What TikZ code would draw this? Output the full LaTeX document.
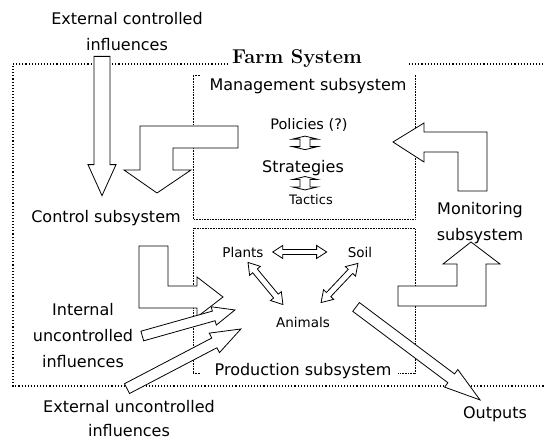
\documentclass[tikz,border=0pt]{standalone}
\usepackage{fontspec}
\newfontfamily\lblfont{DejaVu Sans}
\usetikzlibrary{calc}

\tikzset{
  outerbox/.style={dotted,line width=1.1pt},
  innerbox/.style={densely dotted,line width=0.6pt},
  fatarrow/.style={draw,fill=white,line width=0.8pt,line join=miter},
  lbl/.style={font=\lblfont\fontsize{16}{26}\selectfont,inner sep=0pt,align=center},
  sml/.style={font=\lblfont\fontsize{13.5}{16}\selectfont,inner sep=0pt}
}

% tail, tip, shaft half width, head half width, head length
\newcommand{\onewayarrow}[5]{%
  \coordinate (hb) at ($(#2)!#5!(#1)$);
  \draw[fatarrow] ($(#1)!#3!90:(#2)$) -- ($(hb)!#3!90:(#2)$) -- ($(hb)!#4!90:(#2)$) -- (#2)
    -- ($(hb)!#4!-90:(#2)$) -- ($(hb)!#3!-90:(#2)$) -- ($(#1)!#3!-90:(#2)$) -- cycle;}
\newcommand{\twowayarrow}[5]{%
  \coordinate (ha) at ($(#1)!#5!(#2)$);
  \coordinate (hb) at ($(#2)!#5!(#1)$);
  \draw[fatarrow] (#1) -- ($(ha)!#4!90:(#2)$) -- ($(ha)!#3!90:(#2)$) -- ($(hb)!#3!90:(#2)$)
    -- ($(hb)!#4!90:(#2)$) -- (#2) -- ($(hb)!#4!-90:(#2)$) -- ($(hb)!#3!-90:(#2)$)
    -- ($(ha)!#3!-90:(#2)$) -- ($(ha)!#4!-90:(#2)$) -- cycle;}

\begin{document}
\begin{tikzpicture}[x=1pt,y=-1pt]
  \useasboundingbox (0,0) rectangle (544,442);
  % farm system
  \draw[outerbox] (228,64) -- (13,64) -- (13,386) -- (544,386);
  \draw[outerbox] (409,64) -- (544,64);
  % management and production subsystems
  \draw[innerbox] (200,75) -- (193,75) -- (193,219) -- (415,219) -- (415,75);
  \draw[innerbox] (193,373) -- (193,228) -- (415,228) -- (415,373) -- (398,373);
  \draw[innerbox] (193,373) -- (200,373);

  \node[font=\fontsize{20}{24}\selectfont\bfseries,anchor=base] (farm) at (297,63) {Farm System};
  \node[lbl] (extctrl) at (127,32) {External controlled\\influences};
  \node[lbl,anchor=base] (mgmt) at (308,90) {Management subsystem};
  \node[sml,font=\lblfont\fontsize{14.5}{16}\selectfont,anchor=base] (pol) at (309,129) {Policies (?)};
  \node[sml,font=\lblfont\fontsize{16}{18}\selectfont,anchor=base] (strat) at (303,172) {Strategies};
  \node[sml,font=\lblfont\fontsize{13}{16}\selectfont,anchor=base] (tact) at (311,204) {Tactics};
  \node[lbl,anchor=base] (ctrl) at (106,222) {Control subsystem};
  \node[lbl] (mon) at (480,223) {Monitoring\\subsystem};
  \node[sml,anchor=base] (plants) at (243,257) {Plants};
  \node[sml,anchor=base] (soil) at (360,257) {Soil};
  \node[sml,anchor=base] (animals) at (303,327) {Animals};
  \node[lbl] (intunc) at (83,336) {Internal\\uncontrolled\\influences};
  \node[lbl,anchor=base] (prod) at (303,375) {Production subsystem};
  \node[lbl,font=\lblfont\fontsize{16}{24}\selectfont] (extunc) at (129,419) {External uncontrolled\\influences};
  \node[lbl,anchor=base] (outputs) at (495,418) {Outputs};

  % L-shaped flows between subsystems
  \draw[fatarrow] (238,126) -- (140,126) -- (140,170) -- (124,170) -- (157,193) -- (191,170)
    -- (173,170) -- (173,148) -- (238,148) -- cycle;
  \draw[fatarrow] (487,132) -- (424,132) -- (424,123) -- (393,142) -- (424,162) -- (424,152)
    -- (458,152) -- (458,191) -- (487,191) -- cycle;
  \draw[fatarrow] (398,306) -- (486,306) -- (486,264) -- (500,264) -- (471,242) -- (443,264)
    -- (457,264) -- (457,286) -- (398,286) -- cycle;
  \draw[fatarrow] (139,246) -- (168,246) -- (168,286) -- (197,286) -- (197,277) -- (223,297)
    -- (197,317) -- (197,308) -- (139,308) -- cycle;

  % influences and outputs
  \coordinate (ec1) at ($(extctrl.south)+(-25,5)$);
  \coordinate (ec2) at ($(ctrl.north)+(-4,-14)$);
  \onewayarrow{ec1}{ec2}{8pt}{14pt}{31pt}
  \coordinate (iu1) at ($(intunc.east)+(9,0)$);
  \coordinate (iu2) at ($(animals.west)+(-41,-12)$);
  \onewayarrow{iu1}{iu2}{5pt}{9.5pt}{22pt}
  \coordinate (eu1) at ($(extunc.north)+(-2,-12)$);
  \coordinate (eu2) at ($(animals.west)+(-35,7)$);
  \onewayarrow{eu1}{eu2}{5.5pt}{11pt}{30pt}
  \coordinate (out1) at ($(animals.east)+(26,-15)$);
  \coordinate (out2) at ($(outputs.north)+(-15,-6)$);
  \onewayarrow{out1}{out2}{5.5pt}{11pt}{36pt}

  % links inside the subsystems
  \coordinate (ps1) at ($(pol.south)+(-4,5)$);
  \coordinate (ps2) at ($(strat.north)+(2,-10)$);
  \twowayarrow{ps1}{ps2}{5pt}{12.5pt}{3pt}
  \coordinate (st1) at ($(strat.south)+(2,1)$);
  \coordinate (st2) at ($(tact.north)+(-6,-4)$);
  \twowayarrow{st1}{st2}{5pt}{12.5pt}{3pt}
  \coordinate (pls1) at ($(plants.east)+(9,0)$);
  \coordinate (pls2) at ($(soil.west)+(-21,0)$);
  \twowayarrow{pls1}{pls2}{2.5pt}{6.5pt}{10pt}
  \coordinate (pla1) at ($(plants.south)+(5,5)$);
  \coordinate (pla2) at ($(animals.north west)+(7,-12)$);
  \twowayarrow{pla1}{pla2}{3pt}{7pt}{11pt}
  \coordinate (sla1) at ($(soil.south)+(-2,6)$);
  \coordinate (sla2) at ($(animals.north east)+(-9,-14)$);
  \twowayarrow{sla1}{sla2}{3pt}{7pt}{11pt}
\end{tikzpicture}
\end{document}
